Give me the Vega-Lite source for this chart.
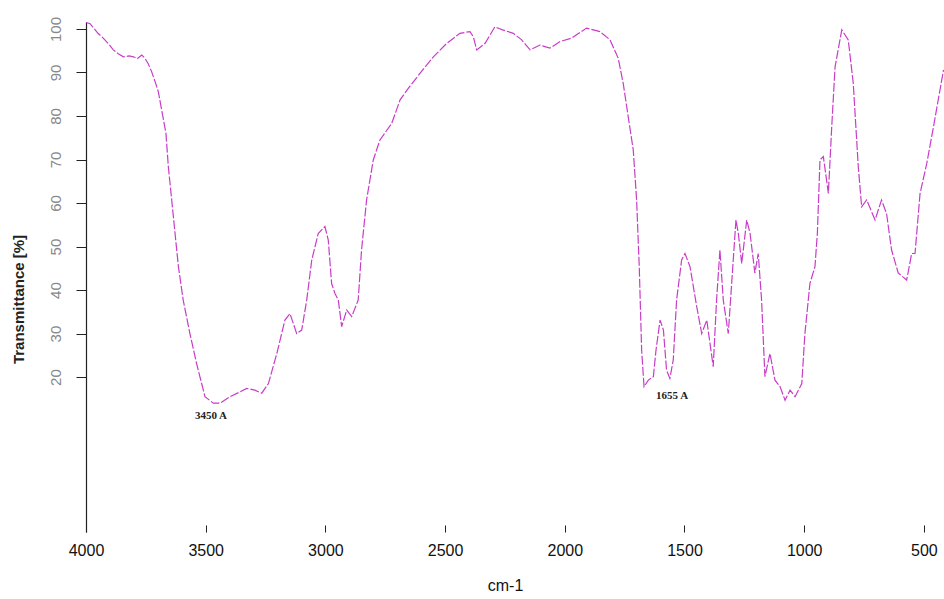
{
  "$schema": "https://vega.github.io/schema/vega-lite/v6.json",
  "width": 858,
  "height": 510,
  "autosize": {"type": "none"},
  "padding": {"left": 86, "top": 22, "right": 0, "bottom": 67},
  "background": "white",
  "config": {"view": {"stroke": null}},
  "datasets": {
    "spectrum": [
      {"w": 4000, "t": 101.5}, {"w": 3983, "t": 101.2}, {"w": 3950, "t": 99}, {"w": 3928, "t": 97.9},
      {"w": 3905, "t": 96.5}, {"w": 3886, "t": 95.2}, {"w": 3865, "t": 94.3}, {"w": 3844, "t": 93.6},
      {"w": 3820, "t": 93.8}, {"w": 3802, "t": 93.6}, {"w": 3785, "t": 93.2}, {"w": 3767, "t": 94.0},
      {"w": 3754, "t": 93.3}, {"w": 3740, "t": 92}, {"w": 3726, "t": 90.2}, {"w": 3712, "t": 88},
      {"w": 3698, "t": 85.6}, {"w": 3684, "t": 81.4}, {"w": 3666, "t": 76}, {"w": 3656, "t": 68.3},
      {"w": 3642, "t": 60.7}, {"w": 3628, "t": 53}, {"w": 3614, "t": 45.4}, {"w": 3594, "t": 37.7},
      {"w": 3566, "t": 30}, {"w": 3538, "t": 23.1}, {"w": 3503, "t": 15.5}, {"w": 3468, "t": 14},
      {"w": 3440, "t": 14}, {"w": 3398, "t": 15.5}, {"w": 3360, "t": 16.5}, {"w": 3329, "t": 17.4},
      {"w": 3295, "t": 17}, {"w": 3266, "t": 16.3}, {"w": 3238, "t": 18.5}, {"w": 3203, "t": 25.4},
      {"w": 3169, "t": 33.1}, {"w": 3148, "t": 34.6}, {"w": 3120, "t": 30}, {"w": 3099, "t": 30.8},
      {"w": 3078, "t": 37.7}, {"w": 3057, "t": 46.9}, {"w": 3030, "t": 53}, {"w": 3002, "t": 54.6},
      {"w": 2988, "t": 51.5}, {"w": 2974, "t": 41.5}, {"w": 2960, "t": 39.2}, {"w": 2946, "t": 37.7},
      {"w": 2932, "t": 31.6}, {"w": 2911, "t": 35.4}, {"w": 2890, "t": 33.9}, {"w": 2863, "t": 37.7},
      {"w": 2849, "t": 49.2}, {"w": 2828, "t": 60.7}, {"w": 2800, "t": 69.9}, {"w": 2772, "t": 74.5},
      {"w": 2723, "t": 78.3}, {"w": 2688, "t": 83.7}, {"w": 2653, "t": 86.4}, {"w": 2605, "t": 89.8},
      {"w": 2549, "t": 93.6}, {"w": 2493, "t": 96.7}, {"w": 2438, "t": 99}, {"w": 2396, "t": 99.4},
      {"w": 2382, "t": 98.2}, {"w": 2368, "t": 95.2}, {"w": 2333, "t": 96.7}, {"w": 2292, "t": 100.5},
      {"w": 2260, "t": 99.8}, {"w": 2215, "t": 99}, {"w": 2180, "t": 97.5}, {"w": 2145, "t": 95.2},
      {"w": 2104, "t": 96.3}, {"w": 2062, "t": 95.6}, {"w": 2020, "t": 97.1}, {"w": 1971, "t": 97.9},
      {"w": 1909, "t": 100.2}, {"w": 1853, "t": 99.4}, {"w": 1811, "t": 97.5}, {"w": 1777, "t": 93.3},
      {"w": 1756, "t": 87.5}, {"w": 1735, "t": 79.8}, {"w": 1714, "t": 72.2}, {"w": 1700, "t": 60.7},
      {"w": 1689, "t": 45.4}, {"w": 1679, "t": 26.2}, {"w": 1669, "t": 17.8}, {"w": 1651, "t": 19.3},
      {"w": 1630, "t": 20.1}, {"w": 1619, "t": 26.2}, {"w": 1602, "t": 33.1}, {"w": 1588, "t": 30.8},
      {"w": 1575, "t": 21.6}, {"w": 1561, "t": 19.7}, {"w": 1547, "t": 23.9}, {"w": 1533, "t": 37.7},
      {"w": 1512, "t": 46.9}, {"w": 1498, "t": 48.4}, {"w": 1477, "t": 45.4}, {"w": 1449, "t": 36.2},
      {"w": 1428, "t": 30}, {"w": 1407, "t": 33.1}, {"w": 1380, "t": 22.4}, {"w": 1366, "t": 37.7},
      {"w": 1352, "t": 49.2}, {"w": 1338, "t": 37.7}, {"w": 1317, "t": 30}, {"w": 1303, "t": 41.5},
      {"w": 1285, "t": 56.1}, {"w": 1275, "t": 53}, {"w": 1261, "t": 46.1}, {"w": 1240, "t": 56.1},
      {"w": 1226, "t": 53}, {"w": 1206, "t": 43.9}, {"w": 1192, "t": 48.4}, {"w": 1178, "t": 37.7},
      {"w": 1164, "t": 20.1}, {"w": 1143, "t": 25.4}, {"w": 1122, "t": 19.3}, {"w": 1101, "t": 17.8},
      {"w": 1080, "t": 14.7}, {"w": 1059, "t": 17}, {"w": 1038, "t": 15.5}, {"w": 1010, "t": 18.5},
      {"w": 997, "t": 30}, {"w": 976, "t": 41.5}, {"w": 955, "t": 45.4}, {"w": 945, "t": 53},
      {"w": 934, "t": 69.9}, {"w": 920, "t": 70.7}, {"w": 899, "t": 62.2}, {"w": 885, "t": 77.5},
      {"w": 871, "t": 91.3}, {"w": 843, "t": 99.8}, {"w": 816, "t": 97.5}, {"w": 795, "t": 87.5},
      {"w": 774, "t": 68.3}, {"w": 760, "t": 59.1}, {"w": 739, "t": 60.7}, {"w": 704, "t": 56.1},
      {"w": 677, "t": 60.7}, {"w": 656, "t": 57.6}, {"w": 635, "t": 49.2}, {"w": 607, "t": 43.9},
      {"w": 572, "t": 42.3}, {"w": 551, "t": 48.4}, {"w": 537, "t": 48.4}, {"w": 516, "t": 62.2},
      {"w": 488, "t": 69.1}, {"w": 460, "t": 77.5}, {"w": 418, "t": 90.6}
    ],
    "notes": [
      {"w": 3478, "t": 11.0, "label": "3450 A"},
      {"w": 1552, "t": 15.6, "label": "1655 A"}
    ]
  },
  "layer": [
    {
      "data": {"name": "spectrum"},
      "mark": {"type": "line", "color": "#c83cc8", "strokeWidth": 1.2, "strokeDash": [9, 2], "clip": true},
      "encoding": {
        "x": {
          "field": "w", "type": "quantitative",
          "scale": {"domain": [416, 4000], "reverse": true, "nice": false, "zero": false},
          "axis": {
            "values": [4000, 3500, 3000, 2500, 2000, 1500, 1000, 500],
            "format": "d",
            "title": "cm-1", "titleFont": "Liberation Sans Narrow, Liberation Sans", "titleFontSize": 16, "titleFontWeight": "normal",
            "titleColor": "#111", "titleX": 419, "titleY": 53, "titleBaseline": "middle", "titleAnchor": null,
            "domain": false, "grid": false,
            "tickSize": -7, "tickColor": "#222", "tickWidth": 1,
            "labelFont": "Liberation Sans Narrow, Liberation Sans", "labelFontSize": 16, "labelColor": "#111",
            "labelPadding": 17, "labelFlush": false, "labelOverlap": false
          }
        },
        "y": {
          "field": "t", "type": "quantitative",
          "scale": {"domain": [-15.6, 101.6], "nice": false, "zero": false},
          "axis": {
            "values": [20, 30, 40, 50, 60, 70, 80, 90, 100],
            "format": "d",
            "title": "Transmittance [%]", "titleFont": "Liberation Sans", "titleFontSize": 15, "titleFontWeight": "bold",
            "titleColor": "#222", "titleX": -68, "titleY": 277, "titleAngle": 270, "titleBaseline": "middle", "titleAlign": "center",
            "domain": true, "domainColor": "#222", "domainWidth": 1.2, "grid": false,
            "tickSize": 10, "tickColor": "#222",
            "labelAngle": 270, "labelFont": "Liberation Sans Narrow, Liberation Sans", "labelFontSize": 15, "labelColor": "#888",
            "labelPadding": 13, "labelFlush": false, "labelOverlap": false
          }
        }
      }
    },
    {
      "data": {"name": "notes"},
      "mark": {"type": "text", "font": "Liberation Serif", "fontWeight": "bold", "fontSize": 11, "color": "#222"},
      "encoding": {
        "x": {"field": "w", "type": "quantitative"},
        "y": {"field": "t", "type": "quantitative"},
        "text": {"field": "label"}
      }
    }
  ]
}
